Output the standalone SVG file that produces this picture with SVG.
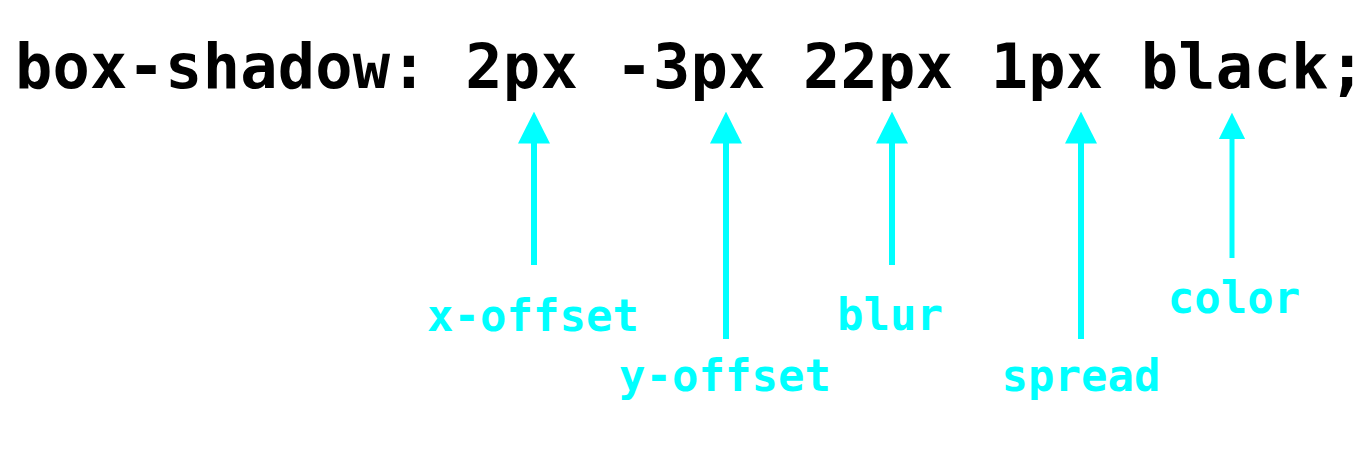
<svg xmlns="http://www.w3.org/2000/svg" width="1366" height="456" viewBox="0 0 1366 456">
  <style>
    .code { font-family: "DejaVu Sans Mono", "Liberation Mono", monospace; font-weight: bold; font-size: 62px; letter-spacing: 0.2px; fill: #000000; }
    .label { font-family: "DejaVu Sans Mono", "Liberation Mono", monospace; font-weight: bold; font-size: 44px; fill: #00FFFF; text-anchor: middle; }
    .arrow { stroke: #00FFFF; stroke-width: 6; fill: none; marker-end: url(#head); }
    .arrow.small { stroke-width: 5; }
  </style>
  <defs>
    <marker id="head" viewBox="0 0 10 10" refX="0.5" refY="5" markerWidth="5.33" markerHeight="5.33" markerUnits="strokeWidth" orient="auto">
      <path d="M0,0 L10,5 L0,10 z" fill="#00FFFF"/>
    </marker>
  </defs>
  <rect width="1366" height="456" fill="#FFFFFF"/>
  <g id="code">
    <text class="code" x="15" y="88" xml:space="preserve">box-shadow: 2px -3px 22px 1px black;</text>
  </g>
  <g id="connectors">
    <line class="arrow" x1="534" y1="265" x2="534" y2="142"/>
    <line class="arrow" x1="726" y1="339" x2="726" y2="142"/>
    <line class="arrow" x1="892" y1="265" x2="892" y2="142"/>
    <line class="arrow" x1="1081" y1="339" x2="1081" y2="142"/>
    <line class="arrow small" x1="1232" y1="258" x2="1232" y2="138"/>
  </g>
  <g id="x-offset"><text class="label" x="533" y="331">x-offset</text></g>
  <g id="y-offset"><text class="label" x="725" y="391">y-offset</text></g>
  <g id="blur"><text class="label" x="890" y="330">blur</text></g>
  <g id="spread"><text class="label" x="1081" y="391">spread</text></g>
  <g id="color"><text class="label" x="1234" y="313">color</text></g>
</svg>
